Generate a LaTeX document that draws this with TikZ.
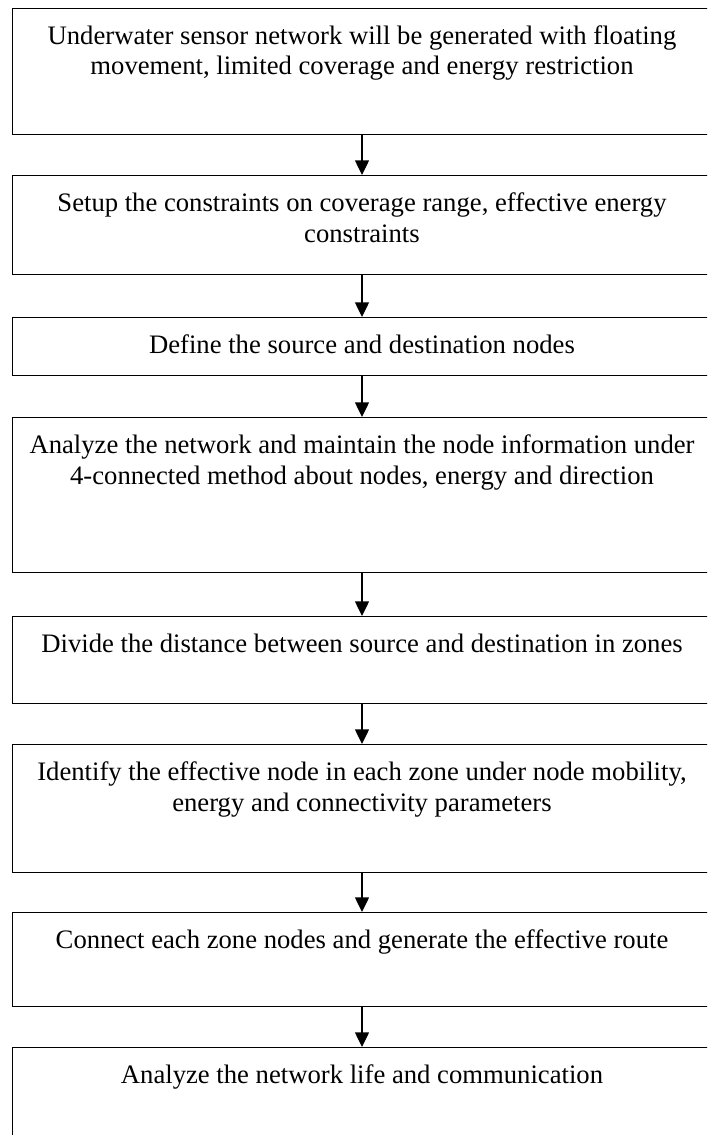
\documentclass[tikz,border=0pt]{standalone}
\usepackage{fontspec}
\setmainfont{Liberation Serif}
\usetikzlibrary{arrows.meta, positioning}

\tikzset{
  stage/.style={draw, line width=1pt, rectangle, inner sep=0pt, anchor=north,
    minimum width=524.25pt, font=\fontsize{20}{23}\selectfont},
  flow/.style={-{Triangle[length=11pt, width=10.5pt]}, line width=1pt}
}
\newcommand{\stagetext}[2]{\parbox[c][#1][t]{524pt}{\centering\rule{0pt}{27pt}#2}}

\begin{document}
\begin{tikzpicture}[x=0.75pt, y=-0.75pt]
		% Frame
		\useasboundingbox (0,0) rectangle (707,1135);
		\clip (0,0) rectangle (707,1135);
		% Stages
		\node[stage] (gen) at (362,7.5) {\stagetext{94.9pt}{Underwater sensor network will be generated with floating\\ movement, limited coverage and energy restriction}};
		\node[stage] (setup) at (362,175) {\stagetext{74.25pt}{Setup the constraints on coverage range, effective energy\\ constraints}};
		\node[stage] (define) at (362,317) {\stagetext{43.5pt}{Define the source and destination nodes}};
		\node[stage] (analyze) at (362,417) {\stagetext{116.25pt}{Analyze the network and maintain the node information under\\ 4-connected method about nodes, energy and direction}};
		\node[stage] (divide) at (362,616) {\stagetext{65.25pt}{Divide the distance between source and destination in zones}};
		\node[stage] (identify) at (362,744) {\stagetext{96pt}{Identify the effective node in each zone under node mobility,\\ energy and connectivity parameters}};
		\node[stage] (connect) at (362,912) {\stagetext{70.5pt}{Connect each zone nodes and generate the effective route}};
		\node[stage] (life) at (362,1047) {\stagetext{80pt}{Analyze the network life and communication}};
		% Arrows
		\draw[flow] (gen) -- (setup);
		\draw[flow] (setup) -- (define);
		\draw[flow] (define) -- (analyze);
		\draw[flow] (analyze) -- (divide);
		\draw[flow] (divide) -- (identify);
		\draw[flow] (identify) -- (connect);
		\draw[flow] (connect) -- (life);
	\end{tikzpicture}
\end{document}
